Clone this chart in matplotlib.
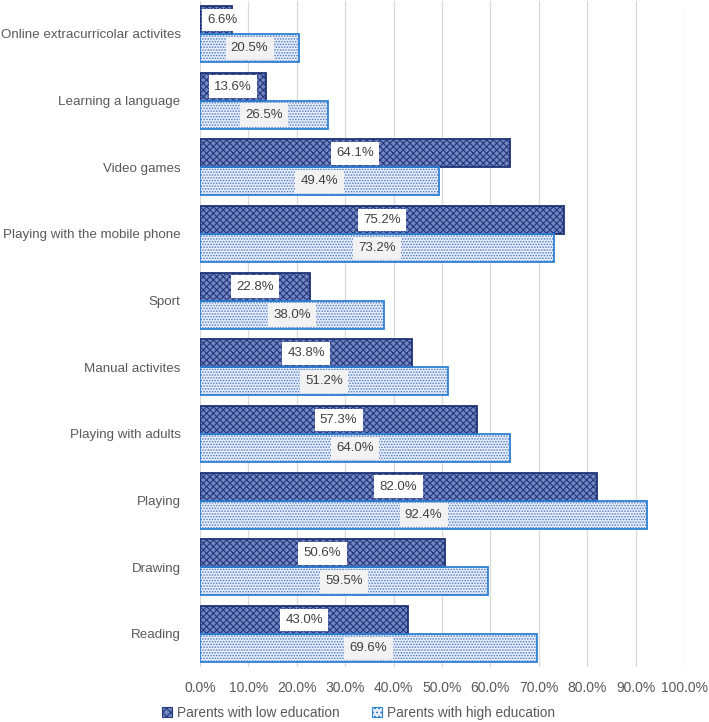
import numpy as np
import matplotlib
matplotlib.use("Agg")
import matplotlib.pyplot as plt
from matplotlib.patches import Patch

# data (top to bottom as in the chart)
categories = ['Online extracurricolar activites', 'Learning a language', 'Video games',
              'Playing with the mobile phone', 'Sport', 'Manual activites',
              'Playing with adults', 'Playing', 'Drawing', 'Reading']
low_edu = [6.6, 13.6, 64.1, 75.2, 22.8, 43.8, 57.3, 82.0, 50.6, 43.0]
high_edu = [20.5, 26.5, 49.4, 73.2, 38.0, 51.2, 64.0, 92.4, 59.5, 69.6]
series_names = ['Parents with low education', 'Parents with high education']

plt.rcParams['font.family'] = ['Liberation Sans', 'DejaVu Sans']
plt.rcParams['hatch.linewidth'] = 0.8
txt = '#595959'

fig = plt.figure(figsize=(7.09, 7.22), dpi=100)
ax = fig.add_axes([0.2821, 0.0758, 0.6827, 0.9233])

y = np.arange(len(categories))
h = 0.42

# low education bars: dark navy checks
ax.barh(y - h/2, low_edu, h, color='#7486c0', edgecolor='#24387f', hatch='xxxxx', linewidth=0, zorder=2)
ax.barh(y - h/2, low_edu, h, fill=False, edgecolor='#1f3375', linewidth=1.3, zorder=3)
# high education bars: light with blue dots
ax.barh(y + h/2, high_edu, h, color='#eaeff8', edgecolor='#4f7cc8', hatch='......', linewidth=0, zorder=2)
ax.barh(y + h/2, high_edu, h, fill=False, edgecolor='#2e80d4', linewidth=1.3, zorder=3)

# data labels
for i in range(len(categories)):
    ax.text(max(low_edu[i] / 2, 4.6), y[i] - h/2, f'{low_edu[i]:.1f}%', ha='center', va='center',
            fontsize=9.5, color='#404040', zorder=5,
            bbox=dict(boxstyle='square,pad=0.4', fc='white', ec='none'))
    ax.text(max(high_edu[i] / 2, 4.6), y[i] + h/2, f'{high_edu[i]:.1f}%', ha='center', va='center',
            fontsize=9.5, color='#404040', zorder=5,
            bbox=dict(boxstyle='square,pad=0.4', fc='#f2f2f2', ec='none'))

ax.set_xlim(0, 100)
ax.set_ylim(len(categories) - 0.5, -0.5)
ax.set_xticks(np.arange(0, 101, 10))
ax.set_xticklabels([f'{t:.1f}%' for t in np.arange(0, 101, 10)])
ax.set_yticks(y)
ax.set_yticklabels(categories)
ax.tick_params(axis='x', length=0, pad=10, labelsize=10, colors=txt)
ax.tick_params(axis='y', length=0, pad=14, labelsize=9.6, colors=txt)
ax.grid(axis='x', color='#d9d9d9', linewidth=0.9, zorder=0)
ax.set_axisbelow(True)
for s in ax.spines.values():
    s.set_visible(False)

handles = [Patch(facecolor='#7486c0', edgecolor='#24387f', hatch='xxxx', linewidth=0.8),
           Patch(facecolor='#eaeff8', edgecolor='#2e80d4', hatch='....', linewidth=0.8)]
fig.legend(handles, series_names, loc='center', bbox_to_anchor=(0.506, 0.0125), ncol=2,
           frameon=False, fontsize=9.8, labelcolor=txt, handlelength=0.7, handleheight=0.7,
           handletextpad=0.4, columnspacing=2.4)

fig.savefig('out.png', dpi=100)
